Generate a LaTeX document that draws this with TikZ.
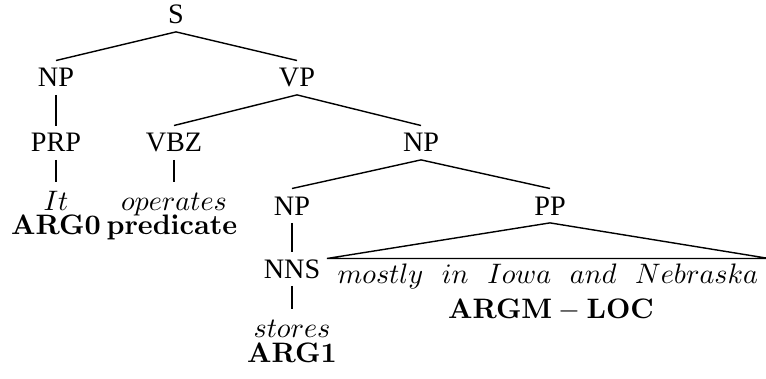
\documentclass[tikz,border=0pt]{standalone}
\usepackage{amsmath}
\usepackage{amssymb}
\usepackage[no-math]{fontspec}
\newfontfamily\tagfont{Liberation Serif}
\usepackage{tikz}

\begin{document}
\begin{tikzpicture}[x=0.355pt,y=-0.355pt,
  tag/.style={font=\tagfont, inner xsep=0pt, inner ysep=2.6pt, text height=6.6pt, text depth=0pt, anchor=base},
  word/.style={inner xsep=0pt, inner ysep=3pt, text height=6.8pt, text depth=0pt, anchor=base},
  phrase/.style={inner xsep=3.6pt, inner ysep=1.6pt, text height=6.9pt, text depth=0pt, anchor=base},
  role/.style={inner sep=0pt, anchor=base},
  branch/.style={line width=0.5pt}]
%set diagram size 766 x 379
\useasboundingbox (0,0) rectangle (766,379);

% Text Node
\node [tag] (s) at (176,24) {S};
% Text Node
\node [tag] (np) at (56,87) {NP};
\node [tag] (vp) at (297,87) {VP};
% Text Node
\node [tag] (prp) at (56,152) {PRP};
\node [tag] (vbz) at (174,152) {VBZ};
\node [tag] (npo) at (421,152) {NP};
% Text Node
\node [word] (it) at (56,210) {$It$};
\node [word] (operates) at (174,210) {$operates$};
\node [role] (arga) at (56,235) {$\mathbf{ARG0}$};
\node [role] (pred) at (172,235) {$\mathbf{predicate}$};
% Text Node
\node [tag] (npi) at (292,215) {NP};
\node [tag] (pp) at (550,215) {PP};
\node [tag] (nns) at (292,278) {NNS};
% Text Node
\node [phrase] (loc) at (548,283) {$mostly\ \ in\ \ Iowa\ \ and\ \ Nebraska$};
\node [role] (argm) at (551,318) {$\mathbf{ARGM-LOC}$};
% Text Node
\node [word] (stores) at (292,337) {$stores$};
\node [role] (argb) at (292,362) {$\mathbf{ARG1}$};

%Straight Lines
\draw [branch] (s.south) -- (np.north);
\draw [branch] (s.south) -- (vp.north);
\draw [branch] (np.south) -- (prp.north);
\draw [branch] (prp.south) -- (it.north);
\draw [branch] (vp.south) -- (vbz.north);
\draw [branch] (vp.south) -- (npo.north);
\draw [branch] (vbz.south) -- (operates.north);
\draw [branch] (npo.south) -- (npi.north);
\draw [branch] (npo.south) -- (pp.north);
\draw [branch] (npi.south) -- (nns.north);
\draw [branch] (nns.south) -- (stores.north);
%Shape: Triangle
\draw [branch] (pp.south) -- (loc.north west) -- (loc.north east) -- cycle;

\end{tikzpicture}
\end{document}
